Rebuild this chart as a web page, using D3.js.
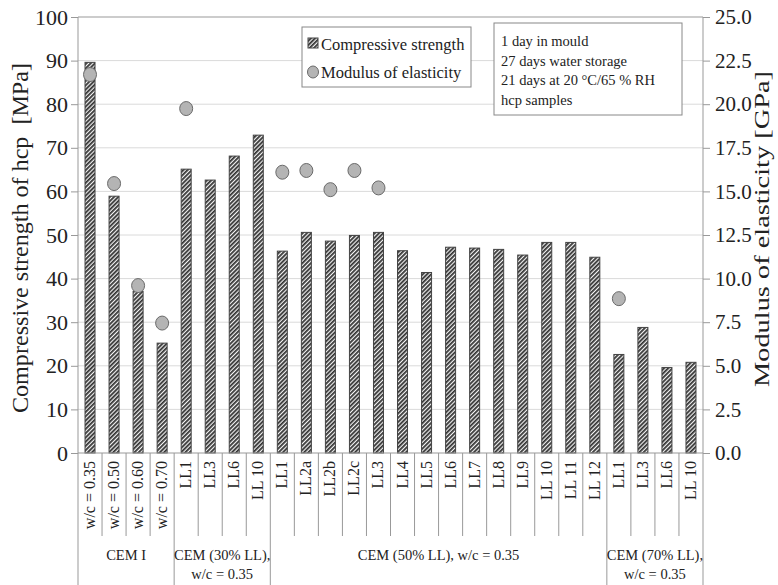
<!DOCTYPE html>
<html>
<head>
<meta charset="utf-8">
<script src="https://cdn.jsdelivr.net/npm/d3@7"></script>
<style>
  body { margin: 0; background: #fff; }
</style>
</head>
<body>
<div id="chart"></div>
<script>
// categories (bottom level) and their groups
const labels = ["w/c = 0.35", "w/c = 0.50", "w/c = 0.60", "w/c = 0.70",
  "LL1", "LL3", "LL6", "LL 10",
  "LL1", "LL2a", "LL2b", "LL2c", "LL3", "LL4", "LL5", "LL6", "LL7", "LL8", "LL9", "LL 10", "LL 11", "LL 12",
  "LL1", "LL3", "LL6", "LL 10"];
const groups = [
  { name: ["CEM I"], n: 4 },
  { name: ["CEM (30% LL),", "w/c = 0.35"], n: 4 },
  { name: ["CEM (50% LL), w/c = 0.35"], n: 14 },
  { name: ["CEM (70% LL),", "w/c = 0.35"], n: 4 }
];
const strength = [89.6, 58.9, 37.1, 25.2,
  65.1, 62.6, 68.1, 72.9,
  46.3, 50.6, 48.6, 49.9, 50.6, 46.4, 41.4, 47.2, 47.0, 46.7, 45.4, 48.3, 48.3, 44.9,
  22.6, 28.8, 19.6, 20.8];
// modulus of elasticity, null where not measured
const modulus = [21.7, 15.45, 9.6, 7.45,
  19.75, null, null, null,
  16.1, 16.2, 15.1, 16.2, 15.2, null, null, null, null, null, null, null, null, null,
  8.85, null, null, null];
const leftTicks = [0, 10, 20, 30, 40, 50, 60, 70, 80, 90, 100];
const rightTicks = [0, 2.5, 5, 7.5, 10, 12.5, 15, 17.5, 20, 22.5, 25];
const notes = ["1 day in mould", "27 days water storage", "21 days at 20 °C/65 % RH", "hcp samples"];

const FONT = "'Liberation Serif', 'Times New Roman', Times, serif";
const W = 778, H = 585;
const m = { left: 78, right: 75, top: 17, bottom: 132 };
const svg = d3.select("#chart").append("svg").attr("width", W).attr("height", H)
  .style("font-family", FONT);

const idx = d3.range(labels.length);
const x = d3.scaleBand().domain(idx).range([m.left, W - m.right]);
const y = d3.scaleLinear().domain([0, 100]).range([H - m.bottom, m.top]);
const y2 = d3.scaleLinear().domain([0, 25]).range([H - m.bottom, m.top]);

const defs = svg.append("defs");
const pat = defs.append("pattern").attr("id", "hatch").attr("patternUnits", "userSpaceOnUse")
  .attr("width", 3).attr("height", 3).attr("patternTransform", "rotate(45)");
pat.append("rect").attr("width", 3).attr("height", 3).attr("fill", "#f4f4f4");
pat.append("line").attr("x1", 0.9).attr("y1", 0).attr("x2", 0.9).attr("y2", 3)
  .attr("stroke", "#333").attr("stroke-width", 1.8);

// gridlines
svg.append("g").selectAll("line").data(leftTicks.slice(1, -1)).join("line")
  .attr("x1", m.left).attr("x2", W - m.right)
  .attr("y1", d => y(d)).attr("y2", d => y(d))
  .attr("stroke", "#dadada").attr("stroke-width", 1);

// frame top
svg.append("line").attr("x1", m.left).attr("x2", W - m.right)
  .attr("y1", m.top).attr("y2", m.top).attr("stroke", "#999");

// left axis
const ax = svg.append("g").attr("transform", `translate(${m.left},0)`)
  .call(d3.axisLeft(y).tickValues(leftTicks).tickSize(7).tickPadding(3).tickFormat(d3.format("d")));
ax.attr("font-family", null);
ax.select(".domain").remove();
ax.selectAll("line").attr("stroke", "#999");
ax.selectAll("text").style("font-family", FONT).style("font-size", "22px").attr("fill", "#222");

const ax2 = svg.append("g").attr("transform", `translate(${W - m.right},0)`)
  .call(d3.axisRight(y2).tickValues(rightTicks).tickSize(7).tickPadding(5).tickFormat(d3.format(".1f")));
ax2.attr("font-family", null);
ax2.select(".domain").remove();
ax2.selectAll("line").attr("stroke", "#999");
ax2.selectAll("text").style("font-family", FONT).style("font-size", "21px").attr("fill", "#222");

// vertical boundaries running down into label area
svg.append("line").attr("x1", m.left).attr("x2", m.left).attr("y1", m.top).attr("y2", H).attr("stroke", "#999");
svg.append("line").attr("x1", W - m.right).attr("x2", W - m.right).attr("y1", m.top).attr("y2", H).attr("stroke", "#999");

// bars
svg.append("g").selectAll("rect").data(strength).join("rect")
  .attr("x", (d, i) => x(i) + x.bandwidth() / 2 - 5)
  .attr("width", 10)
  .attr("y", d => y(d))
  .attr("height", d => y(0) - y(d))
  .attr("fill", "url(#hatch)")
  .attr("stroke", "#444").attr("stroke-width", 1);

// baseline
svg.append("line").attr("x1", m.left).attr("x2", W - m.right)
  .attr("y1", y(0)).attr("y2", y(0)).attr("stroke", "#999");

// modulus dots
svg.append("g").selectAll("ellipse").data(modulus.map((v, i) => ({ v, i })).filter(d => d.v != null)).join("ellipse")
  .attr("cx", d => x(d.i) + x.bandwidth() / 2)
  .attr("cy", d => y2(d.v))
  .attr("rx", 6.5).attr("ry", 7)
  .attr("fill", "#b4b4b4").attr("stroke", "#6a6a6a").attr("stroke-width", 1);

// category labels
svg.append("g").selectAll("text").data(labels).join("text")
  .attr("transform", (d, i) => `translate(${x(i) + x.bandwidth() / 2 + 5},${y(0) + 8}) rotate(-90)`)
  .attr("text-anchor", "end")
  .attr("fill", "#222")
  .style("font-size", "16px")
  .text(d => d);

// dividers between categories and groups
let start = 0;
const bounds = [];
groups.forEach(g => { bounds.push({ s: start, e: start + g.n, g }); start += g.n; });
const innerDiv = [];
bounds.forEach(b => { for (let k = b.s + 1; k < b.e; k++) innerDiv.push(k); });
svg.append("g").selectAll("line").data(innerDiv).join("line")
  .attr("x1", d => x(d)).attr("x2", d => x(d))
  .attr("y1", y(0)).attr("y2", y(0) + 83)
  .attr("stroke", "#999");
svg.append("g").selectAll("line").data(bounds.slice(1)).join("line")
  .attr("x1", d => x(d.s)).attr("x2", d => x(d.s))
  .attr("y1", y(0)).attr("y2", H)
  .attr("stroke", "#999");

// group labels
const gl = svg.append("g").selectAll("text").data(bounds).join("text")
  .attr("x", d => (x(d.s) + x(d.e - 1) + x.bandwidth()) / 2)
  .attr("y", 560)
  .attr("text-anchor", "middle")
  .attr("fill", "#222")
  .style("font-size", "14.5px");
gl.selectAll("tspan").data(d => d.g.name).join("tspan")
  .attr("x", function () { return d3.select(this.parentNode).attr("x"); })
  .attr("dy", (d, i) => i === 0 ? 0 : 19)
  .text(d => d);

// axis titles
svg.append("text")
  .attr("transform", `translate(28,238) rotate(-90)`)
  .attr("text-anchor", "middle").attr("fill", "#222").style("font-size", "23px")
  .attr("textLength", 350).attr("lengthAdjust", "spacingAndGlyphs")
  .text("Compressive strength of hcp\u00a0\u00a0[MPa]");
svg.append("text")
  .attr("transform", `translate(769,229) rotate(-90)`)
  .attr("text-anchor", "middle").attr("fill", "#222").style("font-size", "21px")
  .attr("textLength", 316).attr("lengthAdjust", "spacingAndGlyphs")
  .text("Modulus of elasticity [GPa]");

// legend
const lg = svg.append("g");
lg.append("rect").attr("x", 302).attr("y", 27).attr("width", 169).attr("height", 60)
  .attr("fill", "#fff").attr("stroke", "#888");
lg.append("rect").attr("x", 308).attr("y", 38).attr("width", 10).attr("height", 10)
  .attr("fill", "url(#hatch)").attr("stroke", "#444");
lg.append("text").attr("x", 321).attr("y", 50).attr("fill", "#222").style("font-size", "16.5px").text("Compressive strength");
lg.append("ellipse").attr("cx", 313).attr("cy", 72).attr("rx", 5.5).attr("ry", 6)
  .attr("fill", "#b4b4b4").attr("stroke", "#6a6a6a");
lg.append("text").attr("x", 321).attr("y", 78).attr("fill", "#222").style("font-size", "16.5px").text("Modulus of elasticity");

// notes box
const nb = svg.append("g");
nb.append("rect").attr("x", 494).attr("y", 23).attr("width", 188).attr("height", 92)
  .attr("fill", "#fff").attr("stroke", "#888");
nb.selectAll("text").data(notes).join("text")
  .attr("x", 501).attr("y", (d, i) => 46 + i * 19.5)
  .attr("fill", "#222")
  .style("font-size", "14.5px")
  .text(d => d);
</script>
</body>
</html>
